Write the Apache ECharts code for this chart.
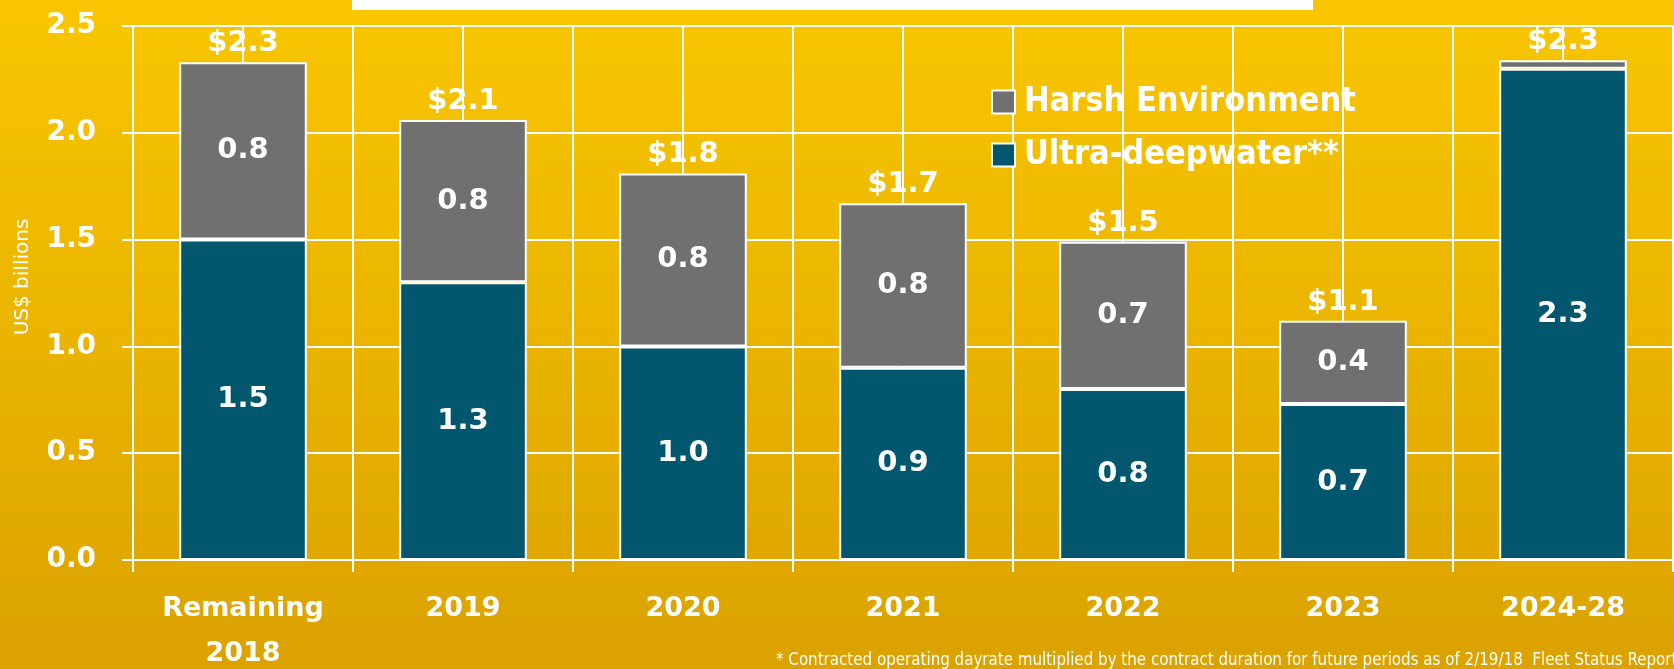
<!DOCTYPE html>
<html>
<head>
<meta charset="utf-8">
<script src="https://cdn.jsdelivr.net/npm/echarts@6/dist/echarts.min.js"></script>
<style>
  html, body { margin: 0; padding: 0; }
  #chart { width: 1674px; height: 669px; }
</style>
</head>
<body>
<div id="chart"></div>
<script>
// categories and values (US$ billions)
const categories = ['Remaining\n2018', '2019', '2020', '2021', '2022', '2023', '2024-28'];
const ultraDeepwater = [1.5, 1.3, 1.0, 0.9, 0.8, 0.73, 2.3];
const harshEnvironment = [0.83, 0.76, 0.81, 0.77, 0.69, 0.39, 0.04];
const yMin = 0, yMax = 2.5, yStep = 0.5;

const totals = ultraDeepwater.map((v, i) => v + harshEnvironment[i]);

const mainFont = 'DejaVu Sans';
const narrowFont = 'DejaVu Sans Condensed';

let chart = echarts.init(document.getElementById('chart'));

let barLabel = {
	show: true,
	position: 'inside',
	color: '#fff',
	fontFamily: mainFont,
	fontWeight: 'bold',
	fontSize: 29,
	formatter: (p) => p.value < 0.1 ? '' : p.value.toFixed(1)
};

let option = {
	backgroundColor: new echarts.graphic.LinearGradient(0, 0, 0, 1, [
		{ offset: 0, color: '#F9C600' },
		{ offset: 1, color: '#DBA200' }
	]),
	animation: false,
	grid: {
		left: 133,
		right: 1,
		top: 26,
		bottom: 109,
		outerBoundsMode: 'none'
	},
	legend: {
		data: ['Harsh Environment', 'Ultra-deepwater**'],
		orient: 'vertical',
		left: 986,
		top: 80,
		itemWidth: 23,
		itemHeight: 23,
		itemGap: 19,
		icon: 'rect',
		textStyle: {
			color: '#fff',
			fontFamily: narrowFont,
			fontWeight: 'bold',
			fontSize: 34,
			padding: [0, 0, 0, 4]
		}
	},
	xAxis: [{
		type: 'category',
		data: categories,
		axisLine: { show: true, lineStyle: { color: '#fff', width: 2 } },
		axisTick: { show: true, length: 12, lineStyle: { color: '#fff', width: 2 } },
		axisLabel: {
			color: '#fff',
			fontFamily: mainFont,
			fontWeight: 'bold',
			fontSize: 27,
			lineHeight: 45,
			margin: 26,
			interval: 0
		},
		splitLine: { show: false }
	}, {
		// half-category vertical grid lines
		type: 'value',
		min: 0,
		max: categories.length * 2,
		interval: 1,
		position: 'bottom',
		axisLine: { show: false },
		axisTick: { show: false },
		axisLabel: { show: false },
		splitLine: { show: true, lineStyle: { color: '#fff', width: 2 } }
	}],
	yAxis: {
		type: 'value',
		min: yMin,
		max: yMax,
		interval: yStep,
		axisLine: { show: true, lineStyle: { color: '#fff', width: 2 } },
		axisTick: { show: true, length: 11, lineStyle: { color: '#fff', width: 2 } },
		axisLabel: {
			color: '#fff',
			fontFamily: mainFont,
			fontWeight: 'bold',
			fontSize: 28,
			margin: 37,
			formatter: (v) => v.toFixed(1)
		},
		splitLine: { show: true, lineStyle: { color: '#fff', width: 2 } }
	},
	series: [{
		name: 'Ultra-deepwater**',
		type: 'bar',
		stack: 'total',
		barWidth: '58%',
		data: ultraDeepwater,
		itemStyle: { color: '#02566D', borderColor: '#fff', borderWidth: 2 },
		label: barLabel
	}, {
		name: 'Harsh Environment',
		type: 'bar',
		stack: 'total',
		barWidth: '58%',
		data: harshEnvironment,
		itemStyle: { color: '#707070', borderColor: '#fff', borderWidth: 2 },
		label: barLabel
	}, {
		// invisible bar over the stack, only carries the total label
		name: 'Total',
		type: 'bar',
		barWidth: '58%',
		barGap: '-100%',
		data: totals,
		silent: true,
		z: 1,
		itemStyle: { color: 'rgba(0,0,0,0)' },
		label: {
			show: true,
			position: 'top',
			distance: 4,
			color: '#fff',
			fontFamily: mainFont,
			fontWeight: 'bold',
			fontSize: 29,
			formatter: (p) => '$' + p.value.toFixed(1)
		}
	}],
	graphic: [{
		type: 'rect',
		shape: { x: 352, y: 0, width: 961, height: 10 },
		style: { fill: '#fff' }
	}, {
		type: 'text',
		x: 23,
		y: 277,
		rotation: Math.PI / 2,
		style: {
			text: 'US$ billions',
			fill: '#fff',
			font: '20px "DejaVu Sans"',
			align: 'center',
			verticalAlign: 'middle'
		}
	}, {
		type: 'text',
		x: 776,
		y: 661,
		style: {
			text: '* Contracted operating dayrate multiplied by the contract duration for future periods as of 2/19/18  Fleet Status Report',
			fill: '#fff',
			font: '16.8px "DejaVu Sans Condensed"',
			align: 'left',
			verticalAlign: 'middle'
		}
	}]
};

chart.setOption(option);
</script>
</body>
</html>
